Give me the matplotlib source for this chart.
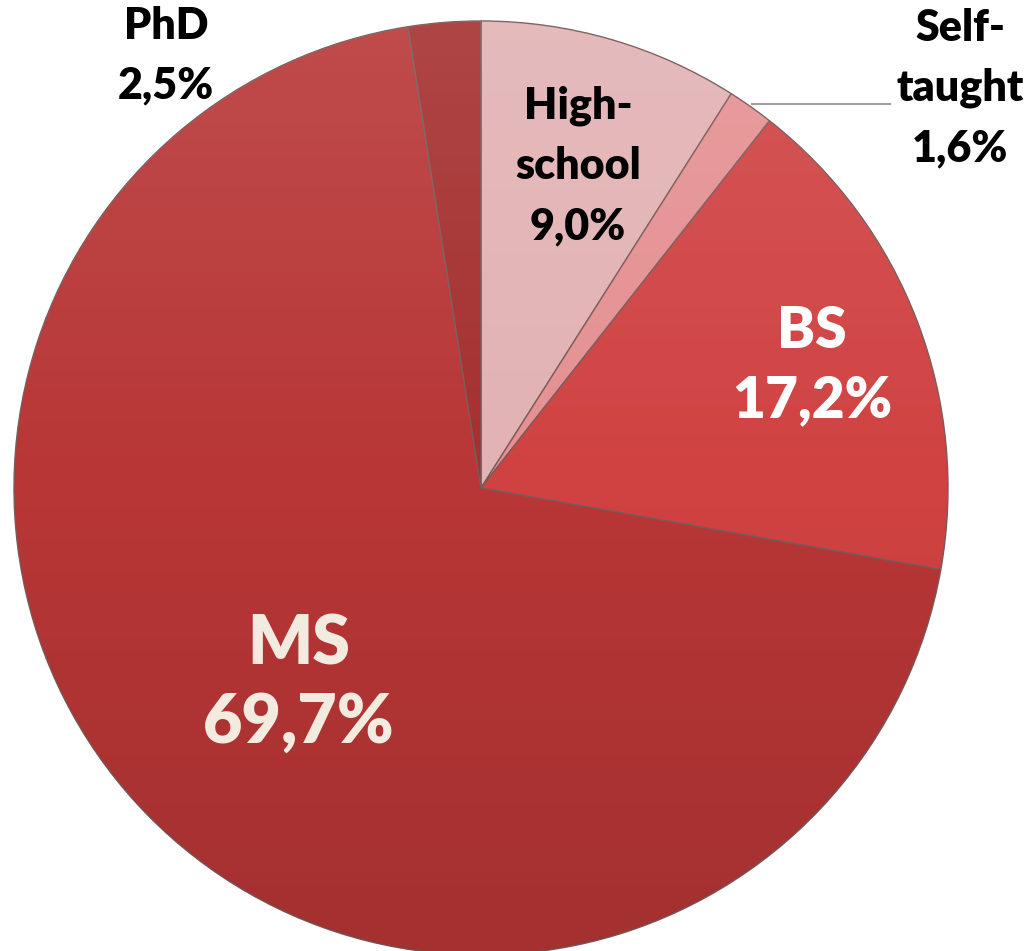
import numpy as np
import matplotlib.pyplot as plt
from matplotlib.patches import Circle

# data, clockwise from 12 o'clock
labels = ["High-\nschool", "Self-\ntaught", "BS", "MS", "PhD"]
values = [9.0, 1.6, 17.2, 69.7, 2.5]
colors = ["#e2b2b4", "#e59092", "#d04242", "#b83636", "#a52f2f"]

W, H = 1031, 951
fig = plt.figure(figsize=(W / 100, H / 100), dpi=100)
ax = fig.add_axes([0, 0, 1, 1])

cx, cy, r = 481, H - 488, 467

wedges, _ = ax.pie(values, colors=colors, startangle=90, counterclock=False,
                   center=(cx, cy), radius=r, frame=True,
                   wedgeprops=dict(edgecolor="#7a5a5a", linewidth=1.0))
ax.set_xlim(0, W)
ax.set_ylim(0, H)
ax.set_aspect("equal")
ax.axis("off")

# soft vertical shading (lighter top, darker bottom)
t = np.linspace(0, 1, 256).reshape(-1, 1)
img = np.zeros((256, 1, 4))
img[..., 0] = np.where(t < 0.5, 1.0, 0.0)
img[..., 1] = img[..., 0]
img[..., 2] = img[..., 0]
img[..., 3] = np.abs(t - 0.5) * 0.22
im = ax.imshow(img, extent=(cx - r, cx + r, cy - r, cy + r), origin="upper",
               aspect="auto", zorder=3)
im.set_clip_path(Circle((cx, cy), r, transform=ax.transData))

font = "Lato"
wt = "heavy"

def px(x, y):
    return x, H - y

ax.text(*px(166, 56), "PhD\n2,5%", ha="center", va="center", fontsize=31,
        fontweight=wt, family=font, color="black", linespacing=1.6, zorder=5)
ax.text(*px(578, 166), "High-\nschool\n9,0%", ha="center", va="center", fontsize=31,
        fontweight=wt, family=font, color="black", linespacing=1.6, zorder=5)
ax.text(*px(960, 88), "Self-\ntaught\n1,6%", ha="center", va="center", fontsize=31,
        fontweight=wt, family=font, color="black", linespacing=1.6, zorder=5)
ax.text(*px(812, 366), "BS\n17,2%", ha="center", va="center", fontsize=41,
        fontweight=wt, family=font, color="white", linespacing=1.4, zorder=5)
ax.text(*px(299, 684), "MS\n69,7%", ha="center", va="center", fontsize=49,
        fontweight=wt, family=font, color="#f4ebe0", linespacing=1.3, zorder=5)

# leader line for Self-taught
ax.plot([752, 890], [H - 104, H - 104], color="#a0a0a0", lw=1.5, zorder=4)

fig.savefig("out.png", dpi=100)
